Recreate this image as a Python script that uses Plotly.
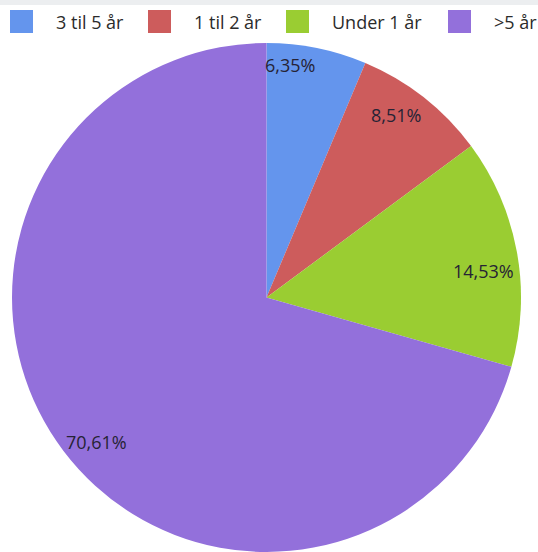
import math
import plotly.graph_objects as go

# Share of respondents by duration
labels = ["3 til 5 år", "1 til 2 år", "Under 1 år", ">5 år"]
values = [6.35, 8.51, 14.53, 70.61]
colors = ["#6495ED", "#CD5C5C", "#9ACD32", "#9370DB"]

W, H = 538, 552
dom_x = [10 / W, 523 / W]
dom_y = [0.0, 1 - 43 / H]

fig = go.Figure(
    go.Pie(
        labels=labels,
        values=values,
        sort=False,
        direction="clockwise",
        rotation=0,
        marker=dict(colors=colors, line=dict(width=0)),
        textinfo="none",
        hoverinfo="label+percent",
        domain=dict(x=dom_x, y=dom_y),
        showlegend=False,
    )
)

# Value labels near the rim of each slice (radius fraction, angle nudge in degrees)
cx = (dom_x[0] + dom_x[1]) / 2 * W
cy = (1 - (dom_y[0] + dom_y[1]) / 2) * H
R = min((dom_x[1] - dom_x[0]) * W, (dom_y[1] - dom_y[0]) * H) / 2
total = sum(values)
cum = 0.0
label_r = [0.918, 0.879, 0.861, 0.878]
label_nudge = [-5.6, -2.8, 3.3, -3.2]
for v, fr, nd in zip(values, label_r, label_nudge):
    mid = (cum + v / 2) / total * 2 * math.pi + math.radians(nd)
    cum += v
    px = cx + fr * R * math.sin(mid)
    py = cy - fr * R * math.cos(mid)
    fig.add_annotation(
        x=px / W, y=1 - py / H, xref="paper", yref="paper",
        xanchor="center", yanchor="middle",
        text=f"{v:.2f}%".replace(".", ","), showarrow=False,
        font=dict(size=18, color="#262335", family="Open Sans"),
    )

# Thin grey strip along the top edge
fig.add_shape(type="rect", xref="paper", yref="paper",
              x0=0, x1=1, y0=1 - 5 / H, y1=1,
              fillcolor="#eceef0", line=dict(width=0), layer="below")

# Legend row: colour squares followed by their labels
legend_x = [10, 148, 286, 448]
sq = 23
sq_top = 10
for name, col, lx in zip(labels, colors, legend_x):
    fig.add_shape(type="rect", xref="paper", yref="paper",
                  x0=lx / W, x1=(lx + sq) / W,
                  y0=1 - (sq_top + sq) / H, y1=1 - sq_top / H,
                  fillcolor=col, line=dict(width=0))
    fig.add_annotation(
        x=(lx + sq + 21) / W, y=1 - (sq_top + sq / 2) / H,
        xref="paper", yref="paper", xanchor="left", yanchor="middle",
        text=name, showarrow=False,
        font=dict(size=18, color="#2b2b2b", family="Open Sans"),
    )

fig.update_layout(
    width=W, height=H,
    margin=dict(l=0, r=0, t=0, b=0),
    paper_bgcolor="white",
    plot_bgcolor="white",
    showlegend=False,
)

fig.write_html("out.html")
